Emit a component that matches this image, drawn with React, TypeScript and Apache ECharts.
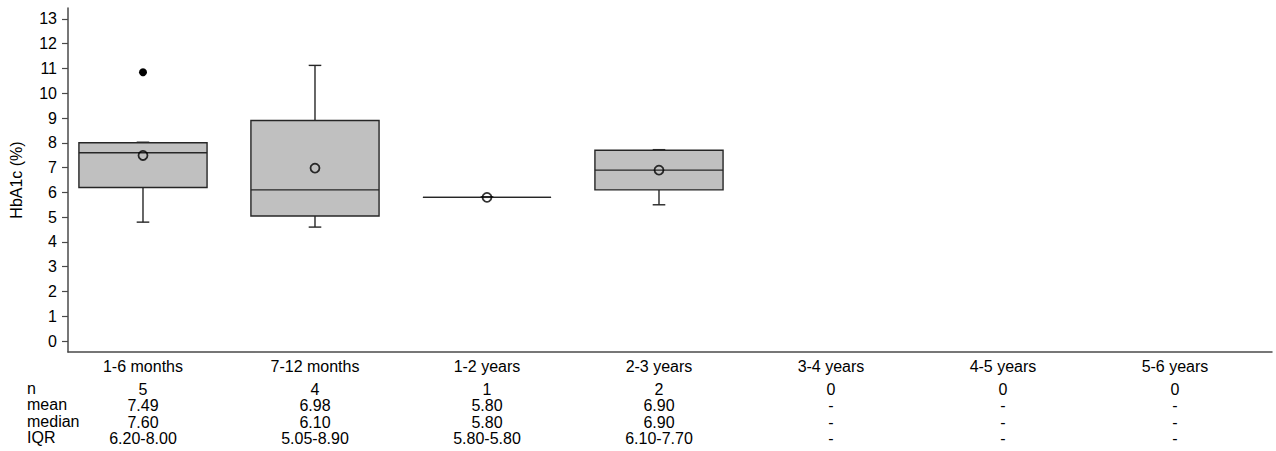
import React, { useEffect, useRef } from "react";
import * as echarts from "echarts";

// Age groups shown along the x axis
const categories = ["1-6 months", "7-12 months", "1-2 years", "2-3 years", "3-4 years", "4-5 years", "5-6 years"];

// Summary statistics of HbA1c (%) for each age group (null where no patients)
const counts = [5, 4, 1, 2, 0, 0, 0];
const whiskerLow = [4.8, 4.6, 5.8, 5.5, null, null, null];
const quartile1 = [6.2, 5.05, 5.8, 6.1, null, null, null];
const medians = [7.6, 6.1, 5.8, 6.9, null, null, null];
const quartile3 = [8.0, 8.9, 5.8, 7.7, null, null, null];
const whiskerHigh = [8.0, 11.1, 5.8, 7.7, null, null, null];
const means = [7.49, 6.98, 5.8, 6.9, null, null, null];

// Outlying observations: [group position, value]
const outliers = [[1, 10.85]];

// Y axis tick values
const yTicks = [0, 1, 2, 3, 4, 5, 6, 7, 8, 9, 10, 11, 12, 13];

const FONT = "'Liberation Sans', Arial, Helvetica, sans-serif";
const INK = "#000";
const AXIS_COLOR = "#4a4a4a";
const BOX_FILL = "#c0c0c0";
const BOX_STROKE = "#262626";
const BOX_WIDTH = 0.745; // in x-axis units
const CAP_HALF = 6.3; // px

const positions = categories.map((_, i) => i + 1);
const fmt = (v: number | null) => (v == null ? "-" : v.toFixed(2));

const rowN = counts.map((c) => String(c));
const rowMean = means.map(fmt);
const rowMedian = medians.map(fmt);
const rowIQR = quartile1.map((q, i) => (q == null ? "-" : `${fmt(q)}-${fmt(quartile3[i])}`));

const tableRows = [
  { label: "n", values: rowN, offset: 23 },
  { label: "mean", values: rowMean, offset: 39.5 },
  { label: "median", values: rowMedian, offset: 56 },
  { label: "IQR", values: rowIQR, offset: 72 },
];

export default function App() {
  const ref = useRef<HTMLDivElement>(null);

  useEffect(() => {
    if (!ref.current) return;
    const chart = echarts.init(ref.current, null, { renderer: "svg" });

    const boxData = positions
      .map((p, i) =>
        counts[i] > 0 ? [p, whiskerLow[i], quartile1[i], medians[i], quartile3[i], whiskerHigh[i]] : null
      )
      .filter((d) => d !== null);

    const meanData = positions
      .map((p, i) => (means[i] != null ? [p, means[i]] : null))
      .filter((d) => d !== null);

    const xMin = 0.564;
    const xMax = 7.564;

    const baseX = {
      type: "value",
      min: xMin,
      max: xMax,
      position: "bottom",
      gridIndex: 0,
      splitLine: { show: false },
      axisTick: { show: false },
    };

    const xAxes: any[] = [
      {
        ...baseX,
        axisLine: { show: true, onZero: false, lineStyle: { color: AXIS_COLOR, width: 1.5 } },
        axisLabel: {
          customValues: positions,
          formatter: (v: number) => categories[Math.round(v) - 1] ?? "",
          color: INK,
          fontFamily: FONT,
          fontSize: 16,
          margin: 6,
        },
      },
      ...tableRows.map((row) => ({
        ...baseX,
        offset: row.offset,
        axisLine: { show: false, onZero: false },
        axisLabel: {
          customValues: positions,
          formatter: (v: number) => row.values[Math.round(v) - 1] ?? "",
          color: INK,
          fontFamily: FONT,
          fontSize: 16,
          margin: 6,
        },
      })),
    ];

    chart.setOption({
      animation: false,
      backgroundColor: "#fff",
      grid: { left: 68, right: 4, top: 8, bottom: 99, containLabel: false },
      xAxis: xAxes,
      yAxis: {
        type: "value",
        min: -0.44,
        max: 13.44,
        name: "HbA1c (%)",
        nameLocation: "middle",
        nameGap: 44,
        nameTextStyle: { color: INK, fontFamily: FONT, fontSize: 16 },
        splitLine: { show: false },
        axisLine: { show: true, onZero: false, lineStyle: { color: AXIS_COLOR, width: 1.5 } },
        axisTick: { show: true, length: 6, customValues: yTicks, lineStyle: { color: AXIS_COLOR, width: 1.2 } },
        axisLabel: {
          customValues: yTicks,
          color: INK,
          fontFamily: FONT,
          fontSize: 16,
          margin: 11,
        },
      },
      graphic: tableRows.map((row) => ({
        type: "text",
        x: 27,
        y: 365 + row.offset,
        style: {
          text: row.label,
          font: `16px ${FONT}`,
          fill: INK,
          verticalAlign: "middle",
          align: "left",
        },
      })),
      series: [
        {
          type: "custom",
          xAxisIndex: 0,
          yAxisIndex: 0,
          data: boxData,
          encode: { x: 0, y: [1, 2, 3, 4, 5] },
          renderItem: (params: any, api: any) => {
            const x = api.value(0);
            const cx = api.coord([x, api.value(3)])[0];
            const yLo = api.coord([x, api.value(1)])[1];
            const yQ1 = api.coord([x, api.value(2)])[1];
            const yMed = api.coord([x, api.value(3)])[1];
            const yQ3 = api.coord([x, api.value(4)])[1];
            const yHi = api.coord([x, api.value(5)])[1];
            const halfW = api.size([BOX_WIDTH, 0])[0] / 2;
            const lineStyle = { stroke: BOX_STROKE, lineWidth: 1.4, fill: "none" };
            return {
              type: "group",
              children: [
                { type: "line", shape: { x1: cx, y1: yQ1, x2: cx, y2: yLo }, style: lineStyle },
                { type: "line", shape: { x1: cx - CAP_HALF, y1: yLo, x2: cx + CAP_HALF, y2: yLo }, style: lineStyle },
                { type: "line", shape: { x1: cx, y1: yQ3, x2: cx, y2: yHi }, style: lineStyle },
                { type: "line", shape: { x1: cx - CAP_HALF, y1: yHi - 0.6, x2: cx + CAP_HALF, y2: yHi - 0.6 }, style: lineStyle },
                {
                  type: "rect",
                  shape: { x: cx - halfW, y: yQ3, width: halfW * 2, height: yQ1 - yQ3 },
                  style: { fill: BOX_FILL, stroke: BOX_STROKE, lineWidth: 1.4 },
                },
                { type: "line", shape: { x1: cx - halfW, y1: yMed, x2: cx + halfW, y2: yMed }, style: lineStyle },
              ],
            };
          },
          z: 2,
        },
        {
          type: "scatter",
          xAxisIndex: 0,
          yAxisIndex: 0,
          data: meanData,
          symbol: "circle",
          symbolSize: 9,
          itemStyle: { color: "rgba(0,0,0,0)", borderColor: "#000", borderWidth: 1.8 },
          z: 3,
        },
        {
          type: "scatter",
          xAxisIndex: 0,
          yAxisIndex: 0,
          data: outliers,
          symbol: "circle",
          symbolSize: 8,
          itemStyle: { color: "#000", opacity: 1 },
          z: 3,
        },
      ],
    });

    return () => chart.dispose();
  }, []);

  return <div ref={ref} style={{ position: "absolute", left: 0, top: 0, width: 1276, height: 451 }} />;
}
